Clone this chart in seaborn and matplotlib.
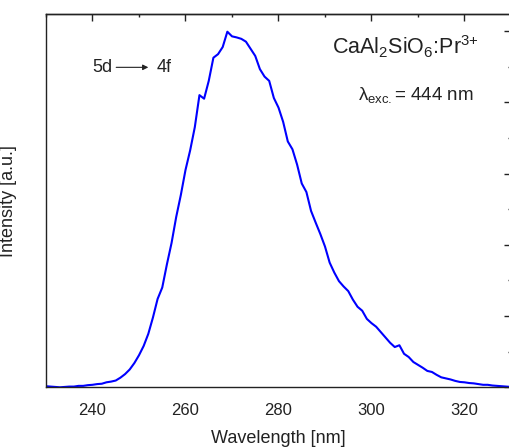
"""
PL emission spectrum of CaAl2SiO6:Pr3+ (5d -> 4f), excitation at 444 nm.
"""

import numpy as np
import pandas as pd

import matplotlib
matplotlib.use("Agg")
import matplotlib.pyplot as plt
from matplotlib.ticker import MultipleLocator
import seaborn as sns

# ── Data (normalised intensity) ──
wavelength = list(range(230, 331))
intensity = [
    0.003, 0.002, 0.001, 0.000, 0.001, 0.002, 0.002, 0.004, 0.004, 0.006,   # 230-239
    0.007, 0.009, 0.010, 0.014, 0.016, 0.019, 0.027, 0.037, 0.050, 0.068,   # 240-249
    0.090, 0.116, 0.150, 0.196, 0.248, 0.280, 0.345, 0.405, 0.478, 0.540,   # 250-259
    0.610, 0.665, 0.730, 0.820, 0.810, 0.860, 0.925, 0.935, 0.955, 0.998,   # 260-269
    0.985, 0.982, 0.978, 0.970, 0.950, 0.930, 0.893, 0.872, 0.860, 0.812,   # 270-279
    0.785, 0.745, 0.690, 0.668, 0.625, 0.572, 0.548, 0.495, 0.462, 0.430,   # 280-289
    0.395, 0.350, 0.322, 0.298, 0.283, 0.270, 0.246, 0.226, 0.215, 0.192,   # 290-299
    0.180, 0.170, 0.155, 0.140, 0.125, 0.113, 0.118, 0.094, 0.085, 0.071,   # 300-309
    0.063, 0.055, 0.046, 0.043, 0.035, 0.028, 0.025, 0.022, 0.018, 0.015,   # 310-319
    0.014, 0.012, 0.011, 0.009, 0.007, 0.007, 0.005, 0.004, 0.003, 0.002,   # 320-329
    0.001,                                                                  # 330
]

x_ticks = [240, 260, 280, 300, 320]
sample_label = r"CaAl$_2$SiO$_6$:Pr$^{\text{3+}}$"
exc_label = r"λ$_{\mathrm{exc.}}$= 444 nm"

df = pd.DataFrame({"Wavelength": wavelength, "Intensity": intensity})

# ── Style ─────────────────────────────────────────────────────────
sns.set_theme(style="white")
plt.rcParams["font.family"] = ["Liberation Sans", "DejaVu Sans"]
plt.rcParams["mathtext.fontset"] = "custom"
plt.rcParams["mathtext.rm"] = "Liberation Sans"
plt.rcParams["mathtext.it"] = "Liberation Sans:italic"
plt.rcParams["axes.edgecolor"] = "#222222"
plt.rcParams["axes.linewidth"] = 1.0

fig = plt.figure(figsize=(5.10, 4.48), dpi=100)
ax = fig.add_axes([46 / 510, 60.7 / 448, 465 / 510, 373.3 / 448])

sns.lineplot(data=df, x="Wavelength", y="Intensity", color="#0000ff",
             linewidth=1.5, ax=ax)

ax.set_xlim(230, 330)
ax.set_ylim(0, 1.0477)
ax.set_xticks(x_ticks)
ax.xaxis.set_minor_locator(MultipleLocator(10))
ax.yaxis.set_major_locator(MultipleLocator(0.2))
ax.yaxis.set_minor_locator(MultipleLocator(0.1))
ax.set_yticklabels([])

ax.tick_params(axis="both", which="major", direction="out", length=6,
               width=1.0, color="#222222", labelsize=12, pad=5)
ax.tick_params(axis="both", which="minor", direction="out", length=3,
               width=1.0, color="#222222")
ax.tick_params(axis="x", labelcolor="#222222")

ax.set_xlabel("Wavelength [nm]", fontsize=13, color="#222222", labelpad=9)
ax.set_ylabel("Intensity [a.u.]", fontsize=13, color="#222222")
ax.yaxis.set_label_coords(-0.062, 0.5)

# mirrored inward ticks on top and right
top = ax.secondary_xaxis("top")
top.set_xticks(x_ticks)
top.xaxis.set_minor_locator(MultipleLocator(10))
top.tick_params(which="major", direction="in", length=5, width=1.0,
                color="#222222", labeltop=False)
top.tick_params(which="minor", direction="in", length=2.5, width=1.0,
                color="#222222")

right = ax.secondary_yaxis("right")
right.yaxis.set_major_locator(MultipleLocator(0.2))
right.yaxis.set_minor_locator(MultipleLocator(0.1))
right.tick_params(which="major", direction="in", length=5, width=1.0,
                  color="#222222", labelright=False)
right.tick_params(which="minor", direction="in", length=2.5, width=1.0,
                  color="#222222")

# ── Annotations ───────────────────────────────────────────────────
ax.text(244.2, 0.885, "5d", fontsize=13, ha="right", va="baseline",
        color="#222222")
ax.annotate("", xy=(252.6, 0.898), xytext=(244.5, 0.898),
            arrowprops=dict(arrowstyle="-|>", color="#222222", lw=0.8,
                            mutation_scale=8))
ax.text(253.7, 0.885, "4f", fontsize=13, ha="left", va="baseline",
        color="#222222")

ax.text(307.3, 0.933, sample_label, fontsize=15.5, ha="center",
        va="baseline", color="#222222")
ax.text(309.5, 0.806, exc_label, fontsize=13.5, ha="center",
        va="baseline", color="#222222")

fig.savefig("out.png", dpi=100)
plt.close()
